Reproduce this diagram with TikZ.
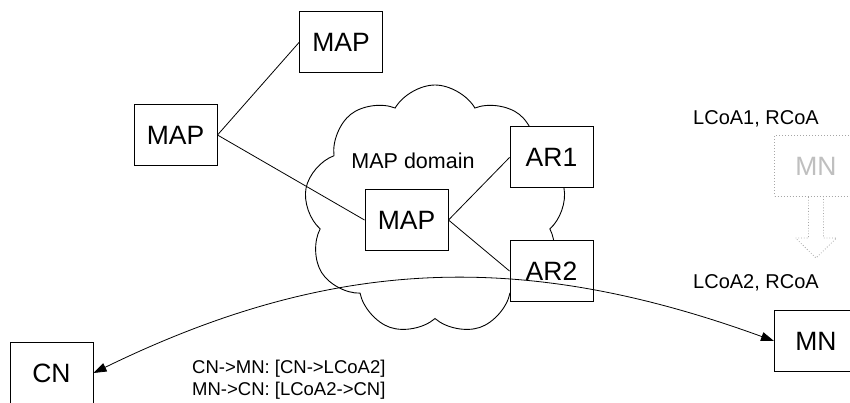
\documentclass[tikz,border=0pt]{standalone}
\usepackage{fontspec}
\setmainfont{Liberation Sans}
\usetikzlibrary{arrows.meta,positioning,calc,shapes.symbols}

\begin{document}
\begin{tikzpicture}[
  x=1pt, y=1pt,
  box/.style={draw, fill=white, line width=1pt, minimum width=83pt, minimum height=61pt, inner sep=0pt, font=\fontsize{26.5}{30}\selectfont},
  ghostbox/.style={box, draw=gray!70, dotted, text=gray!50},
  link/.style={line width=0.8pt},
  arr/.style={{Triangle[length=13pt,width=9pt]}-{Triangle[length=13pt,width=9pt]}, line width=0.8pt},
  lbl/.style={inner sep=0pt, font=\fontsize{20}{24}\selectfont}
]
\clip (0,0) rectangle (850,-403);
% MAP domain
\node[cloud, draw, cloud puffs=9, cloud puff arc=120, aspect=1.07, minimum width=262pt, minimum height=250pt, line width=0.9pt] (domain) at (435,-210) {};
\node[font=\fontsize{21.5}{24}\selectfont] (dlabel) at (413,-161) {MAP domain};
% hierarchy
\node[box] (maptop) at (341,-42.5) {MAP};
\node[box] (mapleft) at (175.5,-135) {MAP};
\node[box] (mapmid) at (406.5,-220) {MAP};
\node[box] (ar1) at (551.5,-157.5) {AR1};
\node[box] (ar2) at (551.5,-271) {AR2};
\draw[link] (mapleft.east) -- (maptop.west);
\draw[link] (mapleft.east) -- (mapmid.west);
\draw[link] (mapmid.east) -- (ar1.west);
\draw[link] (mapmid.east) -- (ar2.west);
% mobile node movement
\node[ghostbox] (oldmn) at (816,-166) {MN};
\node[box] (mn) at (816,-341) {MN};
\node[box] (cn) at (51.5,-373) {CN};
\draw[dotted, draw=gray!70, line width=0.8pt] ([xshift=-7.5pt]oldmn.south) -- ++(0,-41) -- ++(-13,0) -- ++(20.5,-20) -- ++(20.5,20) -- ++(-13,0) -- ++(0,41);
\node[lbl] (coa1) at (756,-119) {LCoA1, RCoA};
\node[lbl] (coa2) at (756,-283) {LCoA2, RCoA};
% traffic
\draw[arr] (cn.east) to[out=26, in=160] (mn.west);
\node[lbl, anchor=west, align=left, font=\fontsize{18.5}{22}\selectfont] (flows) at (192,-380) {CN->MN: [CN->LCoA2]\\MN->CN: [LCoA2->CN]};
\end{tikzpicture}
\end{document}
